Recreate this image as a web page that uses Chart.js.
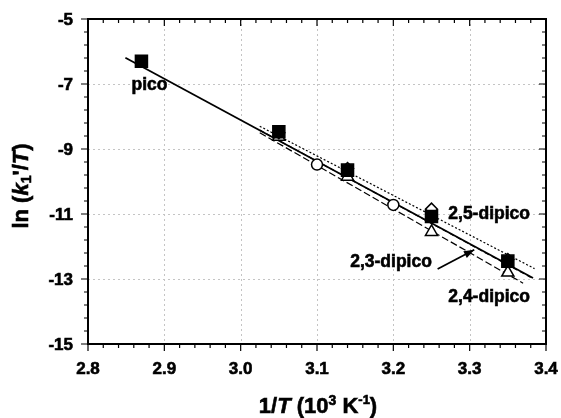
<!DOCTYPE html>
<html>
<head>
<meta charset="utf-8">
<script src="https://cdn.jsdelivr.net/npm/chart.js@4"></script>
<style>
  html, body { margin: 0; padding: 0; background: #fff; }
  #wrap { width: 561px; height: 418px; }
</style>
</head>
<body>
<div id="wrap"><canvas id="chart" width="561" height="418"></canvas></div>
<script>
// measured points, x = 1/T (10^3 K^-1), y = ln(k1'/T)
const picoX = [2.87, 3.05, 3.14, 3.25, 3.35];
const picoY = [-6.3, -8.47, -9.65, -11.08, -12.45];
const di25X = [3.05, 3.14, 3.25, 3.35];
const di25Y = [-8.5, -9.6, -10.85, -12.4];
const di23X = [3.1, 3.2];
const di23Y = [-9.48, -10.72];
const di24X = [3.05, 3.14, 3.25, 3.35];
const di24Y = [-8.62, -9.85, -11.55, -12.8];

// fitted lines (end points)
const picoFitX = [2.849, 3.383];
const picoFitY = [-6.19, -12.97];
const fit25X = [3.025, 3.385];
const fit25Y = [-8.3, -12.68];
const fit23X = [3.025, 3.38];
const fit23Y = [-8.42, -12.95];
const fit24X = [3.025, 3.37];
const fit24Y = [-8.5, -13.13];

const xTicks = [2.8, 2.9, 3.0, 3.1, 3.2, 3.3, 3.4];
const yTicks = [-5, -7, -9, -11, -13, -15];

const pts = (xs, ys) => xs.map((x, i) => ({ x: x, y: ys[i] }));

const FONT = '"Liberation Sans", Arial, sans-serif';

function lineSet(xs, ys, dash, width) {
  return {
    type: 'line',
    data: pts(xs, ys),
    borderColor: '#000',
    borderWidth: width,
    borderDash: dash,
    pointRadius: 0,
    fill: false,
    order: 5
  };
}

function markSet(xs, ys, style, radius, filled, order) {
  return {
    type: 'scatter',
    data: pts(xs, ys),
    pointStyle: style,
    pointRadius: radius,
    pointBackgroundColor: filled ? '#000' : '#fff',
    pointBorderColor: '#000',
    pointBorderWidth: 1.5,
    order: order
  };
}

// bold text, slightly thickened like the scanned original
function boldText(ctx, s, x, y) {
  ctx.fillText(s, x, y);
  ctx.lineWidth = 0.6;
  ctx.strokeText(s, x, y);
}

// frame, grid, ticks, and text labels
const decor = {
  id: 'decor',
  beforeDatasetsDraw(chart) {
    const { ctx, chartArea: a, scales: { x, y } } = chart;
    ctx.save();
    ctx.strokeStyle = '#c4c4c4';
    ctx.lineWidth = 1;
    ctx.setLineDash([2, 3]);
    xTicks.slice(1, -1).forEach(v => {
      const px = Math.round(x.getPixelForValue(v)) + 0.5;
      ctx.beginPath(); ctx.moveTo(px, a.top); ctx.lineTo(px, a.bottom); ctx.stroke();
    });
    yTicks.slice(1, -1).forEach(v => {
      const py = Math.round(y.getPixelForValue(v)) + 0.5;
      ctx.beginPath(); ctx.moveTo(a.left, py); ctx.lineTo(a.right, py); ctx.stroke();
    });
    ctx.restore();
  },
  afterDraw(chart) {
    const { ctx, chartArea: a, scales: { x, y } } = chart;
    ctx.save();
    ctx.strokeStyle = '#000';
    ctx.setLineDash([]);
    ctx.lineWidth = 2;
    ctx.strokeRect(a.left, a.top, a.right - a.left, a.bottom - a.top);

    ctx.lineWidth = 1.2;
    // x ticks: major every 0.1, minor every 0.02
    for (let i = 0; i <= 30; i++) {
      const v = 2.8 + i * 0.02;
      const px = x.getPixelForValue(v);
      const major = i % 5 === 0;
      const len = major ? 7 : 4;
      ctx.beginPath();
      ctx.moveTo(px, a.bottom); ctx.lineTo(px, a.bottom + len);
      ctx.moveTo(px, a.top); ctx.lineTo(px, a.top + len);
      ctx.stroke();
    }
    // y ticks: major every 2, minor every 0.4
    for (let i = 0; i <= 25; i++) {
      const v = -5 - i * 0.4;
      const py = y.getPixelForValue(v);
      const major = i % 5 === 0;
      const len = major ? 7 : 4;
      ctx.beginPath();
      ctx.moveTo(a.left, py); ctx.lineTo(a.left - len, py);
      ctx.moveTo(a.right, py); ctx.lineTo(a.right - len, py);
      ctx.stroke();
    }

    // tick labels
    ctx.fillStyle = '#000';
    ctx.font = 'bold 17px ' + FONT;
    ctx.textAlign = 'center';
    ctx.textBaseline = 'middle';
    xTicks.forEach(v => boldText(ctx, v.toFixed(1), x.getPixelForValue(v), a.bottom + 25));
    ctx.textAlign = 'right';
    yTicks.forEach(v => boldText(ctx, String(v), a.left - 15, y.getPixelForValue(v) + 1));

    // series labels
    ctx.font = 'bold 17.5px ' + FONT;
    ctx.textAlign = 'left';
    boldText(ctx, 'pico', x.getPixelForValue(2.857), y.getPixelForValue(-7.04));
    boldText(ctx, '2,5-dipico', x.getPixelForValue(3.272), y.getPixelForValue(-11.0));
    boldText(ctx, '2,3-dipico', x.getPixelForValue(3.1435), y.getPixelForValue(-12.48));
    boldText(ctx, '2,4-dipico', x.getPixelForValue(3.272), y.getPixelForValue(-13.56));

    // arrow to 2,3-dipico line
    const ax0 = x.getPixelForValue(3.258), ay0 = y.getPixelForValue(-12.69);
    const ax1 = x.getPixelForValue(3.306), ay1 = y.getPixelForValue(-12.1);
    ctx.lineWidth = 1.8;
    ctx.beginPath(); ctx.moveTo(ax0, ay0); ctx.lineTo(ax1, ay1); ctx.stroke();
    const ang = Math.atan2(ay1 - ay0, ax1 - ax0);
    ctx.beginPath();
    ctx.moveTo(ax1, ay1);
    ctx.lineTo(ax1 - 11 * Math.cos(ang - 0.35), ay1 - 11 * Math.sin(ang - 0.35));
    ctx.lineTo(ax1 - 11 * Math.cos(ang + 0.35), ay1 - 11 * Math.sin(ang + 0.35));
    ctx.closePath(); ctx.fill();

    // x axis title: 1/T (10^3 K^-1)
    const parts = [
      ['1/', 'bold 22px', 0], ['T', 'italic bold 22px', 0], [' (10', 'bold 22px', 0],
      ['3', 'bold 14px', -6], [' K', 'bold 22px', 0], ['-1', 'bold 13px', -7], [')', 'bold 22px', 0]
    ];
    drawParts(ctx, parts, 318, 407);

    // y axis title: ln (k1'/T), rotated
    ctx.save();
    ctx.translate(22, 186);
    ctx.rotate(-Math.PI / 2);
    const yparts = [
      ['ln (', 'bold 22px', 0], ['k', 'italic bold 22px', 0], ['1', 'bold 14px', 5],
      ["'/", 'bold 22px', 0], ['T', 'italic bold 22px', 0], [')', 'bold 22px', 0]
    ];
    drawParts(ctx, yparts, 0, 0);
    ctx.restore();
    ctx.restore();
  }
};

function drawParts(ctx, parts, cx, cy) {
  ctx.textAlign = 'left';
  ctx.textBaseline = 'middle';
  let total = 0;
  parts.forEach(p => { ctx.font = p[1] + ' ' + FONT; total += ctx.measureText(p[0]).width; });
  let xx = cx - total / 2;
  parts.forEach(p => {
    ctx.font = p[1] + ' ' + FONT;
    boldText(ctx, p[0], xx, cy + p[2]);
    xx += ctx.measureText(p[0]).width;
  });
}

new Chart(document.getElementById('chart'), {
  type: 'scatter',
  data: {
    datasets: [
      markSet(picoX, picoY, 'rect', 8.5, true, 0),
      markSet(di25X, di25Y, 'rectRot', 6, false, 2),
      markSet(di23X, di23Y, 'circle', 5.5, false, 1),
      markSet(di24X, di24Y, 'triangle', 7, false, 3),
      lineSet(picoFitX, picoFitY, [], 1.8),
      lineSet(fit25X, fit25Y, [2, 2], 1.2),
      lineSet(fit23X, fit23Y, [5, 3], 1.2),
      lineSet(fit24X, fit24Y, [7, 3], 1.2)
    ]
  },
  options: {
    responsive: false,
    animation: false,
    layout: { padding: { left: 0, right: 15, top: 19, bottom: 0 } },
    plugins: { legend: { display: false }, tooltip: { enabled: false } },
    scales: {
      x: {
        type: 'linear', min: 2.8, max: 3.4,
        grid: { display: false }, border: { display: false },
        ticks: { display: false },
        afterFit(s) { s.height = 74; }
      },
      y: {
        type: 'linear', min: -15, max: -5,
        grid: { display: false }, border: { display: false },
        ticks: { display: false },
        afterFit(s) { s.width = 88; }
      }
    }
  },
  plugins: [decor]
});
</script>
</body>
</html>
